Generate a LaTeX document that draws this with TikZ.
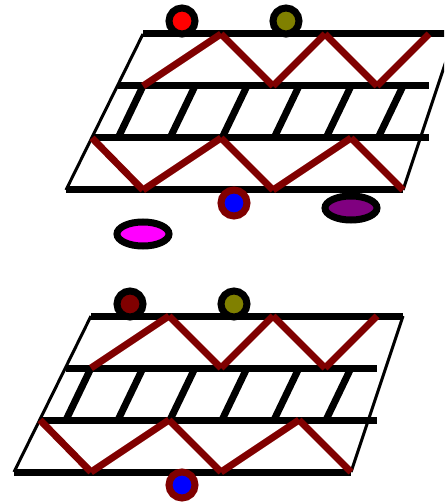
\documentclass[tikz,border=0pt]{standalone}
\usepackage{tikz}
\usetikzlibrary{shapes.geometric}

\definecolor{darkred}{RGB}{128,0,0}
\definecolor{darkolive}{RGB}{128,128,0}
\definecolor{darkpurple}{RGB}{128,0,128}
\definecolor{brightpink}{RGB}{255,0,255}

\begin{document}
\begin{tikzpicture}[x=1pt,y=-1pt,
                    rail/.style={line width=7pt},
                    side/.style={line width=3pt},
                    zig/.style={line width=7pt,draw=darkred},
                    dot/.style={circle,draw,line width=7pt,inner sep=0pt,minimum size=26pt},
                    oval/.style={ellipse,draw,line width=7pt,inner sep=0pt,minimum width=52pt,minimum height=24pt}]
  \useasboundingbox (0,0) rectangle (444,502);
  \path[clip] (0,0) rectangle (444,502);
  % upper panel is the lower one moved by (52,-282)
  \foreach \p/\dx/\dy in {u/52/-282,l/0/0}{
    \begin{scope}[shift={(\dx,\dy)}]
      \coordinate (\p tl) at (91,316);
      \coordinate (\p tr) at (403,316);
      \coordinate (\p bl) at (14,472);
      \coordinate (\p br) at (351,472);
      \coordinate (\p ml) at (66,368);
      \coordinate (\p mr) at (377,368);
      \coordinate (\p nl) at (40,420);
      \coordinate (\p nr) at (377,420);
      \draw[side] (\p bl)--(\p tl);
      \draw[side] (\p br)--(\p tr);
      \draw[rail] (\p tl)--(\p tr);
      \draw[rail] (\p ml)--(\p mr);
      \draw[rail] (\p nl)--(\p nr);
      \draw[rail] (\p bl)--(\p br);
      % rungs
      \foreach \i in {0,...,5}{
        \coordinate (\p r\i) at (91+52*\i,368);
        \coordinate (\p s\i) at (66+52*\i,420);
        \draw[rail] (\p r\i)--(\p s\i);
      }
      % upper zigzag
      \coordinate (\p a0) at (91,368);
      \coordinate (\p a1) at (169,316);
      \coordinate (\p a2) at (221,368);
      \coordinate (\p a3) at (273,316);
      \coordinate (\p a4) at (325,368);
      \coordinate (\p a5) at (377,316);
      \foreach \i/\j in {0/1,1/2,2/3,3/4,4/5}
        \draw[zig] (\p a\i)--(\p a\j);
      % lower zigzag
      \coordinate (\p b0) at (40,420);
      \coordinate (\p b1) at (91,472);
      \coordinate (\p b2) at (169,420);
      \coordinate (\p b3) at (221,472);
      \coordinate (\p b4) at (299,420);
      \coordinate (\p b5) at (351,472);
      \foreach \i/\j in {0/1,1/2,2/3,3/4,4/5}
        \draw[zig] (\p b\i)--(\p b\j);
    \end{scope}
  }
  \node[dot,fill=red] (red) at (182,21) {};
  \node[dot,fill=darkolive] (oliveu) at (286,21) {};
  \node[dot,fill=blue,draw=darkred] (blueu) at (234,203) {};
  \node[oval,fill=darkpurple] (purple) at (351,208) {};
  \node[oval,fill=brightpink] (pink) at (143,234) {};
  \node[dot,fill=darkred] (maroon) at (130,304) {};
  \node[dot,fill=darkolive] (olivel) at (234,304) {};
  \node[dot,fill=blue,draw=darkred] (bluel) at (182,485) {};
\end{tikzpicture}
\end{document}
